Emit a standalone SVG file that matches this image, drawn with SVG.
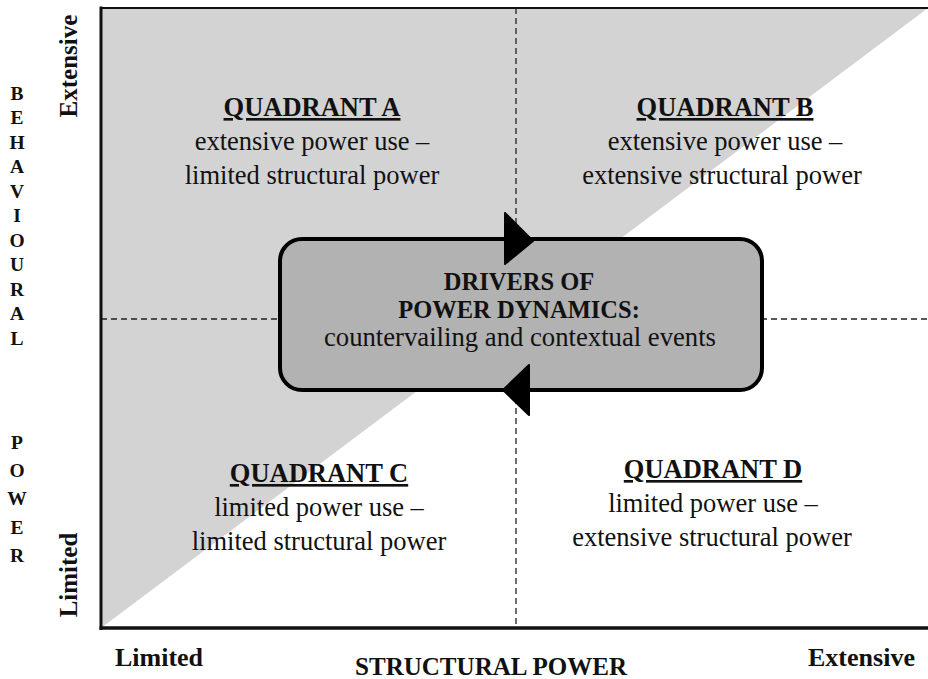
<svg xmlns="http://www.w3.org/2000/svg" width="928" height="679" viewBox="0 0 928 679">
<style>
.ser{font-family:"Liberation Serif","Times New Roman",serif;fill:#111;}
.b{font-weight:bold;}
.q{font-size:26.5px;text-anchor:middle;}
.qh{font-size:26.5px;font-weight:bold;text-anchor:middle;text-decoration:underline;}
.bx{font-size:24.5px;text-anchor:middle;}
.ax{font-size:25px;font-weight:bold;}
.lt{font-size:19.5px;font-weight:bold;text-anchor:middle;}
.dash{stroke:#222;stroke-width:1.3;stroke-dasharray:6 4;fill:none;}
</style>
<rect width="928" height="679" fill="#ffffff"/>
<g id="background">
<polygon points="101,8 928,8 101,628" fill="#d3d3d3"/>
</g>
<g id="grid">
<line class="dash" x1="516" y1="8" x2="516" y2="628"/>
<line class="dash" x1="101" y1="319" x2="928" y2="319"/>
</g>
<g id="axes">
<line x1="101" y1="8" x2="928" y2="8" stroke="#111" stroke-width="2.2"/>
<line x1="101" y1="6.5" x2="101" y2="630" stroke="#111" stroke-width="3"/>
<line x1="99.5" y1="628" x2="928" y2="628" stroke="#111" stroke-width="3.5"/>
</g>
<g id="quadrant-a">
<text class="ser qh" x="312" y="116">QUADRANT A</text>
<text class="ser q" x="312" y="150">extensive power use –</text>
<text class="ser q" x="312" y="184">limited structural power</text>
</g>
<g id="quadrant-b">
<text class="ser qh" x="725" y="116">QUADRANT B</text>
<text class="ser q" x="725" y="150">extensive power use –</text>
<text class="ser q" x="722" y="184">extensive structural power</text>
</g>
<g id="quadrant-c">
<text class="ser qh" x="319" y="482">QUADRANT C</text>
<text class="ser q" x="319" y="516">limited power use –</text>
<text class="ser q" x="319" y="550">limited structural power</text>
</g>
<g id="quadrant-d">
<text class="ser qh" x="713" y="478">QUADRANT D</text>
<text class="ser q" x="713" y="512">limited power use –</text>
<text class="ser q" x="712" y="546">extensive structural power</text>
</g>
<g id="drivers">
<rect x="280" y="239" width="482" height="151" rx="22" ry="22" fill="#b2b2b2" stroke="#000" stroke-width="4"/>
<text class="ser bx b" x="519" y="290">DRIVERS OF</text>
<text class="ser bx b" x="519" y="318">POWER DYNAMICS:</text>
<text class="ser bx" x="520" y="346" style="font-size:26.7px">countervailing and contextual events</text>
</g>
<g id="connectors">
<polygon points="505,213 533,241 505,264" fill="#000" stroke="#000" stroke-width="2" stroke-linejoin="round"/>
<polygon points="529,365 503,390 529,415" fill="#000" stroke="#000" stroke-width="2" stroke-linejoin="round"/>
</g>
<g id="y-axis-labels">
<text class="ser ax" transform="translate(77,66) rotate(-90)" text-anchor="middle">Extensive</text>
<text class="ser ax" transform="translate(77,575) rotate(-90)" text-anchor="middle">Limited</text>
<text class="ser lt" x="17" y="100">B</text>
<text class="ser lt" x="17" y="124">E</text>
<text class="ser lt" x="17" y="149">H</text>
<text class="ser lt" x="17" y="173">A</text>
<text class="ser lt" x="17" y="198">V</text>
<text class="ser lt" x="17" y="222">I</text>
<text class="ser lt" x="17" y="247">O</text>
<text class="ser lt" x="17" y="271">U</text>
<text class="ser lt" x="17" y="296">R</text>
<text class="ser lt" x="17" y="320">A</text>
<text class="ser lt" x="17" y="345">L</text>
<text class="ser lt" x="17" y="449">P</text>
<text class="ser lt" x="17" y="477">O</text>
<text class="ser lt" x="17" y="505">W</text>
<text class="ser lt" x="17" y="534">E</text>
<text class="ser lt" x="17" y="562">R</text>
</g>
<g id="x-axis-labels">
<text class="ser ax" x="115" y="666" textLength="88" lengthAdjust="spacingAndGlyphs">Limited</text>
<text class="ser ax" x="491" y="675" text-anchor="middle" textLength="272" lengthAdjust="spacingAndGlyphs">STRUCTURAL POWER</text>
<text class="ser ax" x="808" y="666" textLength="107" lengthAdjust="spacingAndGlyphs">Extensive</text>
</g>
</svg>
